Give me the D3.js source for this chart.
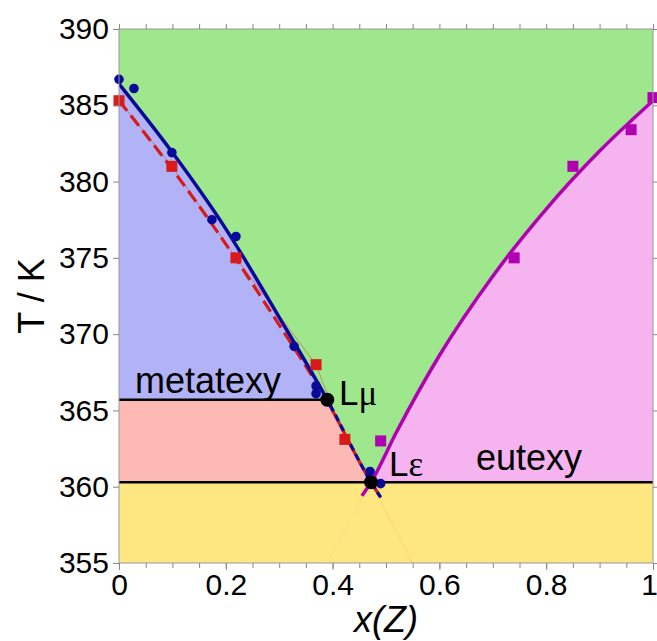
<!DOCTYPE html>
<html><head><meta charset="utf-8">
<script src="https://cdn.jsdelivr.net/npm/d3@7"></script>
<style>body{margin:0;background:#fff}svg{display:block}</style>
</head><body>
<script>
// ---- data ----
const xTicks = [0, 0.2, 0.4, 0.6, 0.8, 1];
const xMinorTicks = d3.range(0, 1.0001, 0.05);
const yTicks = [355, 360, 365, 370, 375, 380, 385, 390];

const blueCurveX = [0, 0.1, 0.2, 0.3, 0.39, 0.472, 0.49];
const blueCurveT = [386.4, 381.9, 376.9, 371.1, 365.7, 360.3, 359.3];
const redCurveX = [0, 0.1, 0.2, 0.3, 0.39, 0.472, 0.49];
const redCurveT = [385.3, 380.8, 375.9, 370.6, 365.6, 360.3, 359.3];
const magCurveX = [0.455, 0.472, 0.52, 0.6, 0.7, 0.8, 0.9, 1.0];
const magCurveT = [359.4, 360.3, 363.6, 368.6, 373.8, 378.2, 382.0, 385.3];

const bluePtsX = [0, 0.028, 0.099, 0.174, 0.219, 0.328, 0.369, 0.369, 0.47, 0.49];
const bluePtsT = [386.7, 386.1, 381.9, 377.5, 376.4, 369.2, 366.6, 366.1, 361.0, 360.2];
const redPtsX = [0, 0.099, 0.219, 0.369, 0.423];
const redPtsT = [385.3, 381.0, 375.0, 368.0, 363.1];
const magPtsX = [0.49, 0.74, 0.85, 0.959, 1.0];
const magPtsT = [363.0, 375.0, 381.0, 383.4, 385.5];

const metatexyX = 0.39, metatexyT = 365.7;
const eutexyX = 0.472, eutexyT = 360.3;
const fadedEndsX = [0.39, 0.55];
const fadedEndsT = [355, 355];

// ---- layout ----
const W = 657, H = 641;
const m = {l: 119, t: 29, w: 534, h: 534};
const svg = d3.select("body").append("svg").attr("width", W).attr("height", H)
  .style("font-family", "'Liberation Sans', Arial, Helvetica, sans-serif");
const x = d3.scaleLinear().domain([0, 1]).range([m.l, m.l + m.w]);
const y = d3.scaleLinear().domain([355, 390]).range([m.t + m.h, m.t]);

const defs = svg.append("defs");
defs.append("clipPath").attr("id", "plot").append("rect")
  .attr("x", m.l).attr("y", m.t).attr("width", m.w).attr("height", m.h);
defs.append("clipPath").attr("id", "above").append("rect")
  .attr("x", m.l).attr("y", m.t).attr("width", m.w).attr("height", y(metatexyT) - m.t);
defs.append("clipPath").attr("id", "below").append("rect")
  .attr("x", m.l).attr("y", y(metatexyT)).attr("width", m.w).attr("height", m.t + m.h - y(metatexyT));

const zip = (a, b) => a.map((v, i) => [v, b[i]]);
const line = d3.line().x(d => x(d[0])).y(d => y(d[1])).curve(d3.curveMonotoneX);
const linLine = d3.line().x(d => x(d[0])).y(d => y(d[1]));

const blueC = zip(blueCurveX, blueCurveT).filter(d => d[1] >= eutexyT - 0.001);
const magC = zip(magCurveX, magCurveT).filter(d => d[1] >= eutexyT - 0.001);

const g = svg.append("g").attr("clip-path", "url(#plot)");
// background regions
g.append("rect").attr("x", m.l).attr("y", m.t).attr("width", m.w).attr("height", m.h).attr("fill", "#9ee78c");
const leftPath = line(blueC) + `L${x(0)},${y(eutexyT)}Z`;
defs.append("clipPath").attr("id", "leftreg").append("path").attr("d", leftPath);
g.append("path").attr("d", leftPath).attr("fill", "#b2b2f6");
g.append("rect").attr("clip-path", "url(#leftreg)")
  .attr("x", m.l).attr("y", y(metatexyT)).attr("width", m.w).attr("height", y(eutexyT) - y(metatexyT))
  .attr("fill", "#fdbab4");
g.append("path").attr("d", line(magC) + `L${x(1)},${y(eutexyT)}Z`).attr("fill", "#f5b3ef");
g.append("rect").attr("x", m.l).attr("y", y(eutexyT)).attr("width", m.w).attr("height", m.t + m.h - y(eutexyT)).attr("fill", "#fee781");

// faint metastable extensions
g.append("line").attr("x1", x(eutexyX)).attr("y1", y(eutexyT)).attr("x2", x(fadedEndsX[0])).attr("y2", y(fadedEndsT[0]))
  .attr("stroke", "#b000b0").attr("stroke-opacity", 0.03).attr("stroke-width", 1.5);
g.append("line").attr("x1", x(eutexyX)).attr("y1", y(eutexyT)).attr("x2", x(fadedEndsX[1])).attr("y2", y(fadedEndsT[1]))
  .attr("stroke", "#d01818").attr("stroke-opacity", 0.06).attr("stroke-width", 1.5);

// horizontal invariant lines
g.append("line").attr("x1", x(0)).attr("x2", x(metatexyX)).attr("y1", y(metatexyT)).attr("y2", y(metatexyT))
  .attr("stroke", "#000").attr("stroke-width", 2.5);
g.append("line").attr("x1", x(0)).attr("x2", x(1)).attr("y1", y(eutexyT)).attr("y2", y(eutexyT))
  .attr("stroke", "#000").attr("stroke-width", 2.5);

// thin red line through red points
g.append("path").attr("d", linLine(zip(redPtsX, redPtsT))).attr("fill", "none")
  .attr("stroke", "#e03030").attr("stroke-width", 0.8).attr("stroke-opacity", 0.6);

const redD = line(zip(redCurveX, redCurveT));
const blueD = line(zip(blueCurveX, blueCurveT));
// red: dashed above, solid below
g.append("path").attr("d", redD).attr("clip-path", "url(#above)").attr("fill", "none")
  .attr("stroke", "#d91a1a").attr("stroke-width", 3.2).attr("stroke-dasharray", "13,6");
g.append("path").attr("d", redD).attr("clip-path", "url(#below)").attr("fill", "none")
  .attr("stroke", "#d91a1a").attr("stroke-width", 3.2);
// blue: solid above, dashed below
g.append("path").attr("d", blueD).attr("clip-path", "url(#above)").attr("fill", "none")
  .attr("stroke", "#0a0a9a").attr("stroke-width", 3.5);
g.append("path").attr("d", blueD).attr("clip-path", "url(#below)").attr("fill", "none")
  .attr("stroke", "#0a0a9a").attr("stroke-width", 3.2).attr("stroke-dasharray", "7,4");
// magenta
g.append("path").attr("d", line(zip(magCurveX, magCurveT))).attr("fill", "none")
  .attr("stroke", "#b000b0").attr("stroke-width", 3.5);

// data points
const pg = svg.append("g");
pg.selectAll(".bp").data(zip(bluePtsX, bluePtsT)).join("circle")
  .attr("cx", d => x(d[0])).attr("cy", d => y(d[1])).attr("r", 4.8).attr("fill", "#0a0a9a");
pg.selectAll(".rp").data(zip(redPtsX, redPtsT)).join("rect")
  .attr("x", d => x(d[0]) - 5.5).attr("y", d => y(d[1]) - 5.5).attr("width", 11).attr("height", 11).attr("fill", "#d91a1a");
pg.selectAll(".mp").data(zip(magPtsX, magPtsT)).join("rect")
  .attr("x", d => x(d[0]) - 5.5).attr("y", d => y(d[1]) - 5.5).attr("width", 11).attr("height", 11).attr("fill", "#b000b0");

// invariant points
pg.append("circle").attr("cx", x(metatexyX)).attr("cy", y(metatexyT)).attr("r", 7).attr("fill", "#000");
pg.append("circle").attr("cx", x(eutexyX)).attr("cy", y(eutexyT)).attr("r", 7).attr("fill", "#000");

// frame
svg.append("rect").attr("x", m.l).attr("y", m.t).attr("width", m.w).attr("height", m.h)
  .attr("fill", "none").attr("stroke", "#999").attr("stroke-width", 1);

// axes
const axisColor = "#888";
function styleAxis(sel) {
  sel.select(".domain").remove();
  sel.selectAll(".tick line").attr("stroke", axisColor);
}
const xb = svg.append("g").attr("transform", `translate(0,${m.t + m.h})`)
  .call(d3.axisBottom(x).tickValues(xMinorTicks).tickSize(5).tickFormat(""));
styleAxis(xb);
const xbl = svg.append("g").attr("transform", `translate(0,${m.t + m.h})`)
  .call(d3.axisBottom(x).tickValues(xTicks).tickSize(7).tickPadding(4).tickFormat(d3.format("~g")));
styleAxis(xbl);
xbl.selectAll("text").attr("font-size", 30).attr("fill", "#000").attr("font-family", "'Liberation Sans', Arial, sans-serif");
xbl.selectAll("text").filter(d => d === 1).attr("dx", -4);
const xt = svg.append("g").attr("transform", `translate(0,${m.t})`)
  .call(d3.axisTop(x).tickValues(xMinorTicks).tickSize(5).tickFormat(""));
styleAxis(xt);
const yl = svg.append("g").attr("transform", `translate(${m.l},0)`)
  .call(d3.axisLeft(y).tickValues(yTicks).tickSize(6).tickPadding(4).tickFormat(d3.format("d")));
styleAxis(yl);
yl.selectAll("text").attr("font-size", 30).attr("fill", "#000").attr("font-family", "'Liberation Sans', Arial, sans-serif");
const yr = svg.append("g").attr("transform", `translate(${m.l + m.w},0)`)
  .call(d3.axisRight(y).tickValues(yTicks).tickSize(6).tickFormat(""));
styleAxis(yr);

// axis titles
svg.append("text").attr("transform", `translate(44,${(y(370) + y(375)) / 2}) rotate(-90)`)
  .attr("text-anchor", "middle").attr("font-size", 36).text("T / K");
svg.append("text").attr("x", x(0.5)).attr("y", 632).attr("text-anchor", "middle")
  .attr("font-size", 36).attr("font-style", "italic").text("x(Z)");

// annotations
svg.append("text").attr("x", 135).attr("y", 393).attr("font-size", 36).text("metatexy");
svg.append("text").attr("x", 476).attr("y", 470).attr("font-size", 36).text("eutexy");
const lm = svg.append("text").attr("x", 339).attr("y", 405).attr("font-size", 35);
lm.append("tspan").text("L");
lm.append("tspan").attr("font-family", "'Liberation Serif', 'DejaVu Serif', serif").text("μ");
const le = svg.append("text").attr("x", 389).attr("y", 476).attr("font-size", 35);
le.append("tspan").text("L");
le.append("tspan").attr("font-family", "'Liberation Serif', 'DejaVu Serif', serif").text("ε");
</script>
</body></html>
